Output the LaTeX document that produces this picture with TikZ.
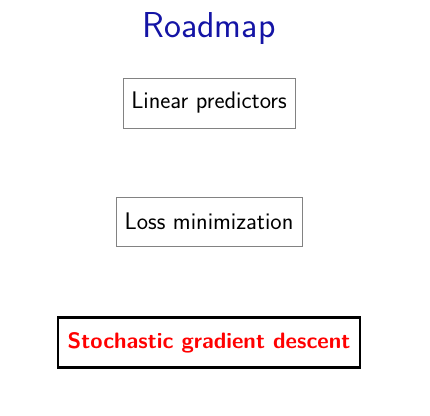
\documentclass[tikz,border=0pt]{standalone}
\usepackage{fontspec}
\definecolor{titleblue}{RGB}{20,20,165}
\definecolor{boxgray}{RGB}{130,130,130}
\begin{document}
\begin{tikzpicture}[x=1pt,y=-1pt,
  plainbox/.style={draw=boxgray,line width=0.8pt,inner sep=0pt,font=\sffamily\fontsize{24}{28}\selectfont},
  hibox/.style={draw=black,line width=2.2pt,inner sep=0pt,text=red,font=\sffamily\bfseries\fontsize{22.3}{26}\selectfont}]
\useasboundingbox (0,0) rectangle (430,415);
\node[text=titleblue,font=\sffamily\fontsize{36}{40}\selectfont] (title) at (209,29) {Roadmap};
\node[plainbox,minimum width=172,minimum height=50] (lin) at (209,103) {Linear predictors};
\node[plainbox,minimum width=186,minimum height=49] (loss) at (209,221.5) {Loss minimization};
\node[hibox,minimum width=302,minimum height=50] (sgd) at (209,342.5) {Stochastic gradient descent};
\end{tikzpicture}
\end{document}
